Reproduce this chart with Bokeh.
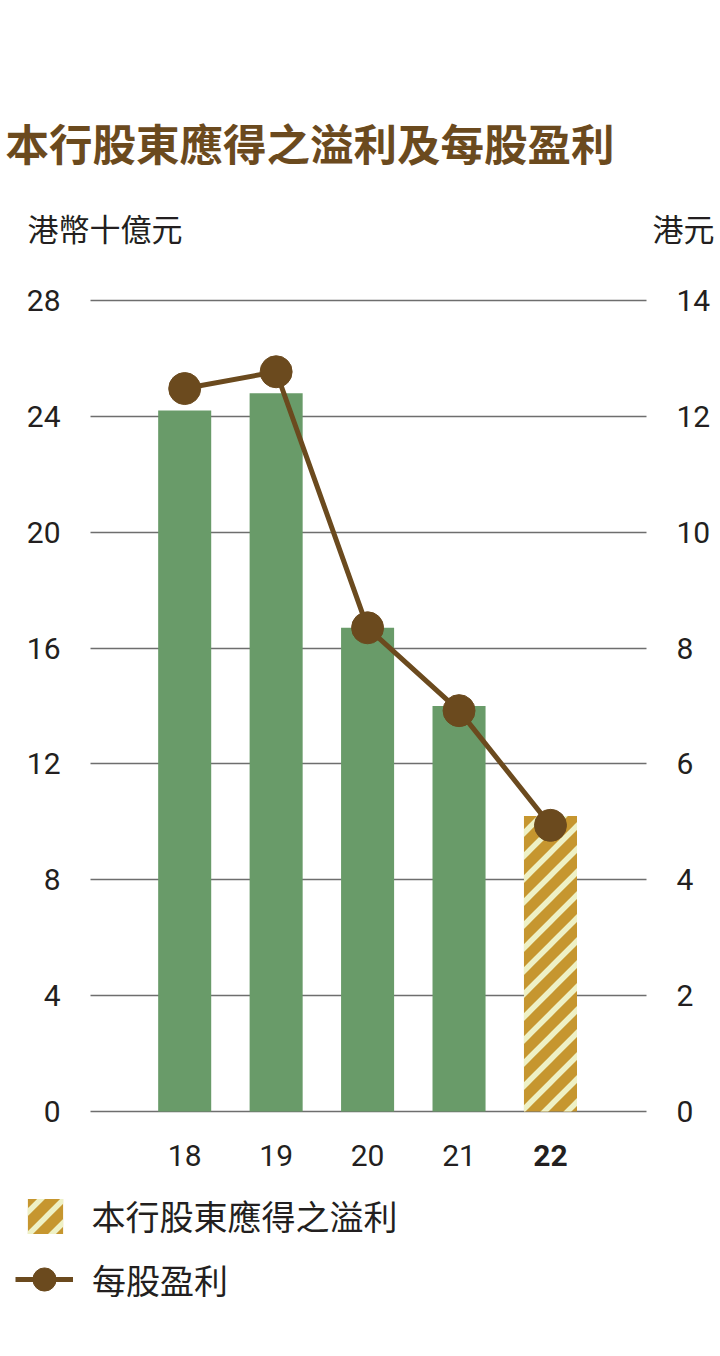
from bokeh.plotting import figure
from bokeh.models import (Range1d, LinearAxis, Label, Legend, LegendItem, FixedTicker,
                          ColumnDataSource, ImageURLTexture, Grid)
from bokeh.core.properties import value
from bokeh.embed import file_html
from bokeh.resources import INLINE
import base64

# ---- data ----
years = ["18", "19", "20", "21", "22"]
year_style = ["normal", "normal", "normal", "normal", "bold"]
profit = [24.2, 24.8, 16.7, 14.0, 10.2]       # HK$ billion (left axis)
eps = [12.48, 12.77, 8.35, 6.92, 4.94]         # HK$ (right axis)
left_ticks = [0, 4, 8, 12, 16, 20, 24, 28]
right_ticks = [0, 2, 4, 6, 8, 10, 12, 14]
title_text = "本行股東應得之溢利及每股盈利"
left_unit = "港幣十億元"
right_unit = "港元"
legend_bar = "本行股東應得之溢利"
legend_line = "每股盈利"

GREEN = "#699b69"
GOLD = "#c6962f"
STRIPE = "#eef1c6"
BROWN = "#6b4a1e"
TEXT = "#231f20"
GRID = "#6e6e6e"
CJK = "Noto Sans CJK TC"
NUM = "Roboto"

# ---- layout (pixels) ----
W, H = 720, 1356
PL, PR, PT, PB = 90, 646, 300, 1111      # plot area edges on the canvas
X0, X1 = -1.03, 5.05                     # category span of the plot area
Y0, Y1 = left_ticks[0], left_ticks[-1]
R1 = right_ticks[-1]
ppx = (PR - PL) / (X1 - X0)
ppy = (PB - PT) / (Y1 - Y0)
ratio = R1 / Y1

# 45-degree stripe texture
T = 23
svg_tile = (f"<svg xmlns='http://www.w3.org/2000/svg' width='{T}' height='{T}'>"
            f"<path d='M-6,6 L6,-6 M-1,{T+1} L{T+1},-1 M{T-6},{T+6} L{T+6},{T-6}' "
            f"stroke='{STRIPE}' stroke-width='5.5'/></svg>")
tex = ImageURLTexture(url="data:image/svg+xml;base64," + base64.b64encode(svg_tile.encode()).decode())

xs = list(range(len(years)))
src_hist = ColumnDataSource(dict(x=xs[:-1], top=profit[:-1]))
src_last = ColumnDataSource(dict(x=xs[-1:], top=profit[-1:]))
src_eps = ColumnDataSource(dict(x=xs, y=eps))

ylo = Y0 - (H - PB) / ppy
yhi = Y1 + PT / ppy
p = figure(width=W, height=H, output_backend="svg", toolbar_location=None,
           x_range=Range1d(X0 - PL / ppx, X1 + (W - PR) / ppx),
           y_range=Range1d(ylo, yhi),
           x_axis_location=None, min_border=0)
p.outline_line_color = None
p.background_fill_color = "white"
p.border_fill_color = "white"
p.extra_y_ranges = {"eps": Range1d(ylo * ratio, yhi * ratio)}

p.yaxis[0].ticker = FixedTicker(ticks=left_ticks)
p.yaxis[0].fixed_location = X0
raxis = LinearAxis(y_range_name="eps", ticker=FixedTicker(ticks=right_ticks), fixed_location=X1)
p.add_layout(raxis, "right")
for ax in p.yaxis:
    ax.axis_line_color = None
    ax.major_tick_line_color = None
    ax.minor_tick_line_color = None
    ax.major_tick_out = 0
    ax.major_tick_in = 0
    ax.major_label_standoff = 30
    ax.major_label_text_font_size = "30px"
    ax.major_label_text_font = NUM
    ax.major_label_text_color = TEXT

p.xgrid.visible = False
if "cross_bounds" in Grid.properties():
    p.ygrid.ticker = FixedTicker(ticks=left_ticks)
    p.ygrid.cross_bounds = (X0, X1)
    p.ygrid.grid_line_color = GRID
    p.ygrid.grid_line_width = 1.3
else:
    p.ygrid.visible = False
    p.segment(x0=X0, x1=X1, y0=left_ticks, y1=left_ticks, line_color=GRID, line_width=1.3)

p.vbar(x="x", top="top", width=0.58, source=src_hist, fill_color=GREEN, line_color=None)
hb = p.vbar(x="x", top="top", width=0.58, source=src_last, fill_color=GOLD, line_color=None,
            hatch_extra={"stripes": tex}, hatch_pattern=value("stripes"))
ln = p.line(x="x", y="y", source=src_eps, y_range_name="eps", line_color=BROWN, line_width=5)
sc = p.scatter(x="x", y="y", source=src_eps, y_range_name="eps", size=32,
               fill_color=BROWN, line_color=BROWN)

# category labels
for i, yr in enumerate(years):
    p.add_layout(Label(x=i, y=H - 1155, y_units="screen", text=yr, text_align="center",
                       text_baseline="middle", text_font=NUM, text_font_size="30px",
                       text_color=TEXT, text_font_style=year_style[i]))

# title and unit labels (screen units from the canvas bottom-left)
p.add_layout(Label(x=5, y=H - 142, x_units="screen", y_units="screen", text=title_text,
                   text_font=CJK, text_font_size="43.5px", text_font_style="bold",
                   text_color=BROWN, text_baseline="middle", text_align="left"))
p.add_layout(Label(x=27, y=H - 227, x_units="screen", y_units="screen", text=left_unit,
                   text_font=CJK, text_font_size="31px", text_color=TEXT,
                   text_baseline="middle", text_align="left"))
p.add_layout(Label(x=714, y=H - 227, x_units="screen", y_units="screen", text=right_unit,
                   text_font=CJK, text_font_size="31px", text_color=TEXT,
                   text_baseline="middle", text_align="right"))

common = dict(padding=0, margin=0, border_line_color=None, background_fill_alpha=0,
              label_text_font_size="34px", label_text_font=CJK, label_text_color=TEXT,
              label_height=35)
l1 = Legend(items=[LegendItem(label=legend_bar, renderers=[hb])], location=(22.6, H - 1240.4),
            glyph_width=44, glyph_height=44, label_standoff=25, **common)
l2 = Legend(items=[LegendItem(label=legend_line, renderers=[ln, sc])], location=(15, H - 1308),
            glyph_width=58, glyph_height=58, label_standoff=19, **common)
p.add_layout(l1, "center")
p.add_layout(l2, "center")

open("out.html", "w").write(file_html(p, INLINE))
